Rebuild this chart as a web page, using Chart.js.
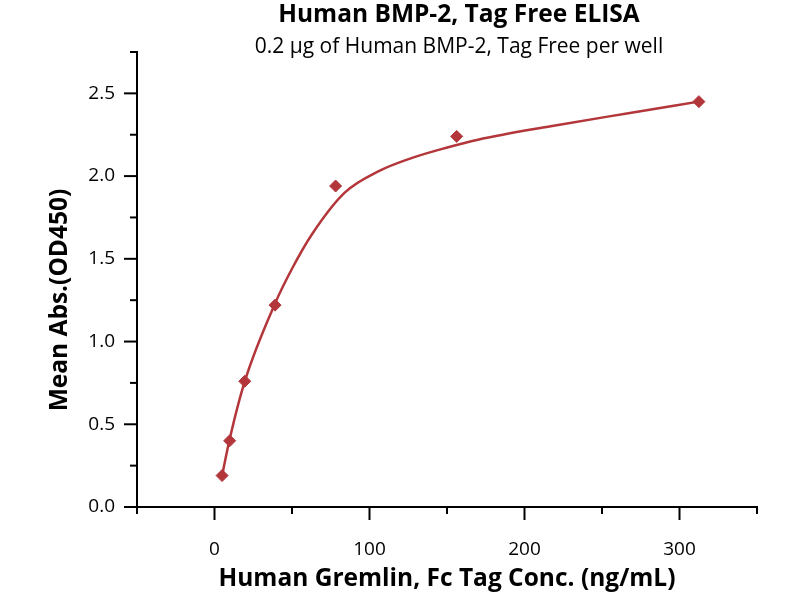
<!DOCTYPE html>
<html>
<head>
<meta charset="utf-8">
<script src="https://cdn.jsdelivr.net/npm/chart.js@4.4.0/dist/chart.umd.min.js"></script>
<style>
  html, body { margin: 0; padding: 0; background: #fff; }
</style>
</head>
<body>
<canvas id="elisa" width="800" height="600"></canvas>
<script>
// measured points: Gremlin conc (ng/mL) vs mean OD450
const conc = [4.88, 9.77, 19.53, 39.06, 78.13, 156.25, 312.5];
const meanAbs = [0.19, 0.40, 0.76, 1.22, 1.94, 2.24, 2.45];

// fitted curve
const fitConc = [4.88, 9.77, 19.53, 39.06, 50, 63, 84, 106, 127.5, 149, 170, 216, 267, 312.5];
const fitAbs = [0.19, 0.41, 0.76, 1.23, 1.44, 1.65, 1.90, 2.03, 2.11, 2.17, 2.22, 2.30, 2.38, 2.45];

const xLabels = [0, 100, 200, 300];
const yLabels = [0.0, 0.5, 1.0, 1.5, 2.0, 2.5];

const titleText = 'Human BMP-2, Tag Free ELISA';
const subtitleText = '0.2 \u00b5g of Human BMP-2, Tag Free per well';
const xTitle = 'Human Gremlin, Fc Tag Conc. (ng/mL)';
const yTitle = 'Mean Abs.(OD450)';

const FONT = '"Open Sans", Lato, sans-serif';
const RED = '#b3363a';

const near = (a, b) => Math.abs(a - b) < 1e-6;

// tick marks: long for labelled values, short for the rest
const tickMarks = {
	id: 'tickMarks',
	afterDraw(chart) {
		const ctx = chart.ctx;
		const xs = chart.scales.x, ys = chart.scales.y;
		ctx.save();
		ctx.strokeStyle = '#000';
		ctx.lineWidth = 2;
		xs.ticks.forEach(t => {
			const px = xs.getPixelForValue(t.value);
			const len = xLabels.some(v => near(v, t.value)) ? 13 : 7;
			ctx.beginPath();
			ctx.moveTo(px, xs.top);
			ctx.lineTo(px, xs.top + len);
			ctx.stroke();
		});
		ys.ticks.forEach(t => {
			const py = ys.getPixelForValue(t.value);
			const len = yLabels.some(v => near(v, t.value)) ? 13 : 7;
			ctx.beginPath();
			ctx.moveTo(ys.right, py);
			ctx.lineTo(ys.right - len, py);
			ctx.stroke();
		});
		ctx.restore();
	}
};

// titles and y axis title
const headings = {
	id: 'headings',
	afterDraw(chart) {
		const ctx = chart.ctx;
		const area = chart.chartArea;
		const cx = (area.left + area.right) / 2 + 12;
		ctx.save();
		ctx.fillStyle = '#000';
		ctx.textAlign = 'center';
		ctx.textBaseline = 'middle';
		ctx.font = 'bold 24.5px ' + FONT;
		ctx.fillText(titleText, cx, 15);
		ctx.font = '21px ' + FONT;
		ctx.fillText(subtitleText, cx, 47);

		ctx.translate(60, 300);
		ctx.rotate(-Math.PI / 2);
		ctx.font = 'bold 24.5px ' + FONT;
		ctx.fillText(yTitle, 0, 0);
		ctx.restore();
	}
};

new Chart(document.getElementById('elisa'), {
	type: 'scatter',
	data: {
		datasets: [{
			label: 'Mean Abs.',
			data: conc.map((c, i) => ({ x: c, y: meanAbs[i] })),
			pointStyle: 'rectRot',
			pointRadius: 6,
			backgroundColor: RED,
			borderColor: RED,
			showLine: false,
			order: 1
		}, {
			label: 'Fit',
			data: fitConc.map((c, i) => ({ x: c, y: fitAbs[i] })),
			showLine: true,
			pointRadius: 0,
			borderColor: RED,
			borderWidth: 2.5,
			cubicInterpolationMode: 'monotone',
			order: 2
		}]
	},
	options: {
		responsive: false,
		animation: false,
		layout: { padding: { top: 52, right: 43, left: 0, bottom: 0 } },
		plugins: {
			legend: { display: false },
			tooltip: { enabled: false }
		},
		scales: {
			x: {
				type: 'linear',
				min: -50,
				max: 350,
				grid: { display: false, drawTicks: false },
				border: { color: '#000', width: 2 },
				afterFit: s => { s.height = 93; },
				ticks: {
					stepSize: 50,
					padding: 31,
					color: '#000',
					maxRotation: 0,
					font: { family: FONT, size: 19 },
					callback: v => xLabels.some(l => near(l, v)) ? String(v) : ''
				},
				title: {
					display: true,
					text: xTitle,
					color: '#000',
					font: { family: FONT, size: 24.5, weight: 'bold' },
					padding: { top: 0, bottom: 6 }
				}
			},
			y: {
				type: 'linear',
				min: 0,
				max: 2.75,
				grid: { display: false, drawTicks: false },
				border: { color: '#000', width: 2 },
				afterFit: s => { s.width = 137; },
				ticks: {
					stepSize: 0.25,
					padding: 22,
					color: '#000',
					font: { family: FONT, size: 19 },
					callback: v => yLabels.some(l => near(l, v)) ? v.toFixed(1) : ''
				}
			}
		}
	},
	plugins: [tickMarks, headings]
});
</script>
</body>
</html>
